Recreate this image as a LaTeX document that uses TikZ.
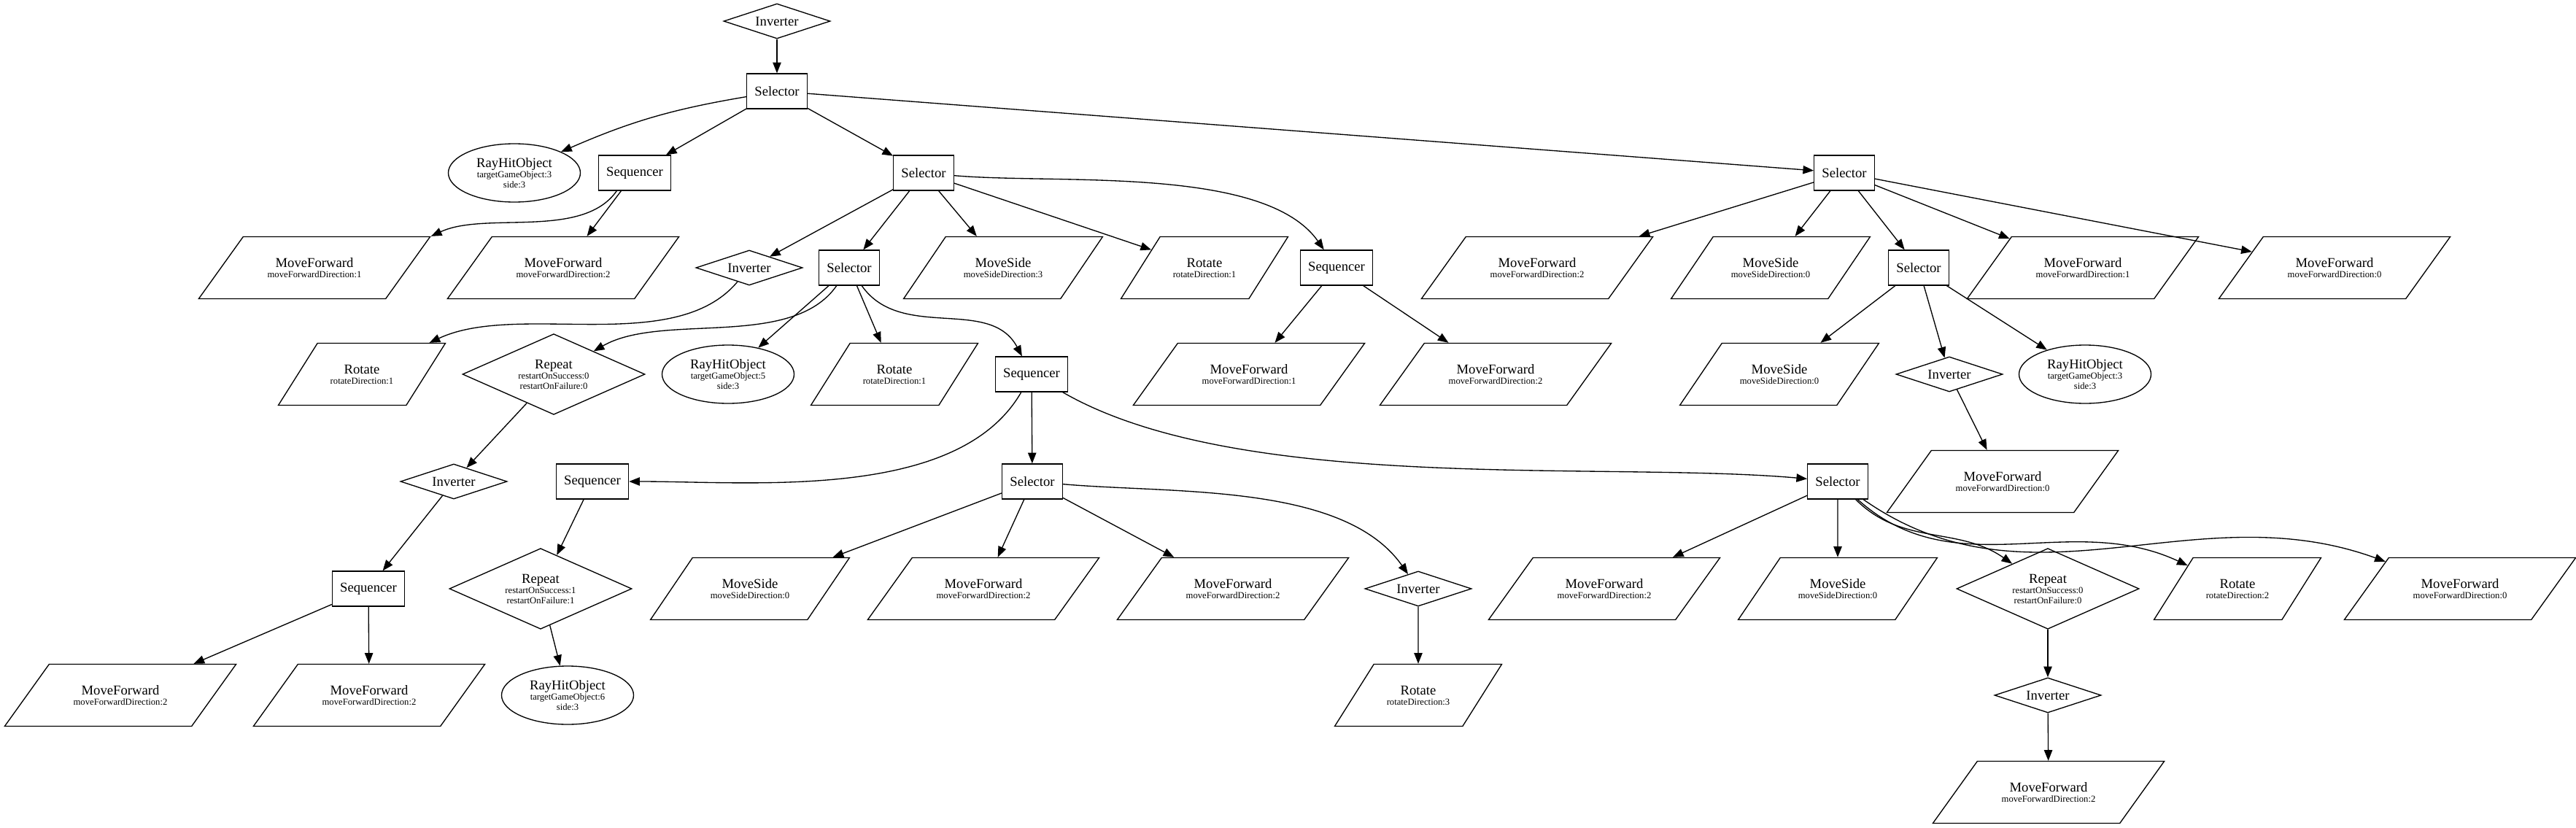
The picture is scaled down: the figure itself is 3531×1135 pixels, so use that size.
\documentclass[tikz,border=0pt]{standalone}
\usepackage{fontspec}
\setmainfont{Liberation Serif}
\usetikzlibrary{shapes.geometric,arrows.meta}

\newcommand{\lbl}[2]{{\fontsize{14}{14}\selectfont #1}\\#2}

\begin{document}
\begin{tikzpicture}[x=0.75pt,y=0.75pt,line width=1pt,>={Triangle[length=11pt,width=8.5pt]}]

        \tikzstyle{ctrl}=[draw,rectangle,minimum width=54pt,minimum height=36pt,inner xsep=8pt,font=\fontsize{14}{16}\selectfont]
        \tikzstyle{deco}=[draw,diamond,aspect=3,inner sep=0pt,minimum width=109.5pt,minimum height=36pt,font=\fontsize{14}{16}\selectfont]
        \tikzstyle{rep}=[draw,diamond,aspect=2.25,inner sep=0pt,minimum width=187.5pt,minimum height=83pt,align=center,font=\fontsize{9.5}{10.5}\selectfont]
        \tikzstyle{cond}=[draw,ellipse,inner sep=0pt,minimum width=135.75pt,minimum height=60pt,align=center,font=\fontsize{9.5}{10.5}\selectfont]
        \tikzstyle{act}=[draw,trapezium,trapezium left angle=40,trapezium right angle=140,trapezium stretches=true,minimum height=63.75pt,align=center,font=\fontsize{9.5}{10.5}\selectfont]
        \tikzstyle{mfwd}=[act,minimum width=238.5pt]
        \tikzstyle{mside}=[act,minimum width=204.75pt]
        \tikzstyle{mrot}=[act,minimum width=172pt]

        \useasboundingbox (0,0) rectangle (3531,-1135);

        % root
        \node[deco] (inv0) at (1065,-29) {Inverter};
        \node[ctrl] (sel1) at (1065,-125) {Selector};

        % level 2
        \node[cond] (ray2) at (705,-237) {\lbl{RayHitObject}{targetGameObject:3\\side:3}};
        \node[ctrl] (seq2) at (870,-237) {Sequencer};
        \node[ctrl] (sel2) at (1266,-237) {Selector};
        \node[ctrl] (sel2r) at (2528,-237) {Selector};

        % level 3
        \node[mfwd] (mf3a) at (431,-367) {\lbl{MoveForward}{moveForwardDirection:1}};
        \node[mfwd] (mf3b) at (772,-367) {\lbl{MoveForward}{moveForwardDirection:2}};
        \node[deco] (inv3) at (1027,-367) {Inverter};
        \node[ctrl] (sel3) at (1164,-367) {Selector};
        \node[mside] (ms3) at (1375,-367) {\lbl{MoveSide}{moveSideDirection:3}};
        \node[mrot] (rot3) at (1651,-367) {\lbl{Rotate}{rotateDirection:1}};
        \node[ctrl] (seq3) at (1832,-367) {Sequencer};
        \node[mfwd] (mf3c) at (2107,-367) {\lbl{MoveForward}{moveForwardDirection:2}};
        \node[mside] (ms3b) at (2427,-367) {\lbl{MoveSide}{moveSideDirection:0}};
        \node[ctrl] (sel3r) at (2630,-367) {Selector};
        \node[mfwd] (mf3d) at (2855,-367) {\lbl{MoveForward}{moveForwardDirection:1}};
        \node[mfwd] (mf3e) at (3200,-367) {\lbl{MoveForward}{moveForwardDirection:0}};

        % level 4
        \node[mrot] (rot4) at (496,-513) {\lbl{Rotate}{rotateDirection:1}};
        \node[rep] (rep4) at (759,-513) {\lbl{Repeat}{restartOnSuccess:0\\restartOnFailure:0}};
        \node[cond] (ray4) at (998,-513) {\lbl{RayHitObject}{targetGameObject:5\\side:3}};
        \node[mrot] (rot4b) at (1226,-513) {\lbl{Rotate}{rotateDirection:1}};
        \node[ctrl] (seq4) at (1414,-513) {Sequencer};
        \node[mfwd] (mf4a) at (1712,-513) {\lbl{MoveForward}{moveForwardDirection:1}};
        \node[mfwd] (mf4b) at (2050,-513) {\lbl{MoveForward}{moveForwardDirection:2}};
        \node[mside] (ms4) at (2439,-513) {\lbl{MoveSide}{moveSideDirection:0}};
        \node[deco] (inv4) at (2672,-513) {Inverter};
        \node[cond] (ray4b) at (2858,-513) {\lbl{RayHitObject}{targetGameObject:3\\side:3}};

        % level 5
        \node[deco] (inv5) at (622,-660) {Inverter};
        \node[ctrl] (seq5) at (812,-660) {Sequencer};
        \node[ctrl] (sel5) at (1415,-660) {Selector};
        \node[ctrl] (sel5r) at (2519,-660) {Selector};
        \node[mfwd] (mf5) at (2745,-660) {\lbl{MoveForward}{moveForwardDirection:0}};

        % level 6
        \node[ctrl] (seq6) at (505,-807) {Sequencer};
        \node[rep] (rep6) at (741,-807) {\lbl{Repeat}{restartOnSuccess:1\\restartOnFailure:1}};
        \node[mside] (ms6) at (1028,-807) {\lbl{MoveSide}{moveSideDirection:0}};
        \node[mfwd] (mf6a) at (1348,-807) {\lbl{MoveForward}{moveForwardDirection:2}};
        \node[mfwd] (mf6b) at (1690,-807) {\lbl{MoveForward}{moveForwardDirection:2}};
        \node[deco] (inv6) at (1944,-807) {Inverter};
        \node[mfwd] (mf6c) at (2199,-807) {\lbl{MoveForward}{moveForwardDirection:2}};
        \node[mside] (ms6b) at (2519,-807) {\lbl{MoveSide}{moveSideDirection:0}};
        \node[rep] (rep6r) at (2807,-807) {\lbl{Repeat}{restartOnSuccess:0\\restartOnFailure:0}};
        \node[mrot] (rot6) at (3067,-807) {\lbl{Rotate}{rotateDirection:2}};
        \node[mfwd] (mf6d) at (3372,-807) {\lbl{MoveForward}{moveForwardDirection:0}};

        % level 7
        \node[mfwd] (mf7a) at (165,-953) {\lbl{MoveForward}{moveForwardDirection:2}};
        \node[mfwd] (mf7b) at (506,-953) {\lbl{MoveForward}{moveForwardDirection:2}};
        \node[cond] (ray7) at (778,-953) {\lbl{RayHitObject}{targetGameObject:6\\side:3}};
        \node[mrot] (rot7) at (1944,-953) {\lbl{Rotate}{rotateDirection:3}};
        \node[deco] (inv7) at (2807,-953) {Inverter};

        % level 8
        \node[mfwd] (mf8) at (2808,-1086) {\lbl{MoveForward}{moveForwardDirection:2}};

        % straight edges
        \foreach \a / \b in {inv0/sel1,sel1/seq2,sel1/sel2,sel1/sel2r,seq2/mf3b,
            sel2/inv3,sel2/sel3,sel2/ms3,sel2/rot3,sel3/ray4,sel3/rot4b,
            seq3/mf4a,seq3/mf4b,sel2r/mf3c,sel2r/ms3b,sel2r/sel3r,sel2r/mf3d,sel2r/mf3e,
            sel3r/ms4,sel3r/inv4,sel3r/ray4b,inv4/mf5,rep4/inv5,inv5/seq6,
            seq6/mf7a,seq6/mf7b,seq5/rep6,rep6/ray7,seq4/sel5,sel5/ms6,sel5/mf6a,sel5/mf6b,
            inv6/rot7,sel5r/mf6c,sel5r/ms6b,rep6r/inv7,inv7/mf8} {
            \draw[->] (\a) -- (\b);
        }

        % curved edges
        \draw[->] (sel1) to[bend right=7] (ray2);
        \draw[->] (seq2.-135) to[out=-125,in=25,looseness=0.8] (mf3a.top right corner);
        \draw[->] (sel2) to[out=-5,in=125,looseness=0.7] (seq3);
        \draw[->] (inv3) to[out=-130,in=25,looseness=0.8] (rot4);
        \draw[->] (sel3) to[out=-125,in=30,looseness=0.8] (rep4);
        \draw[->] (sel3) to[out=-55,in=118] (seq4);
        \draw[->] (seq4) to[out=-120,in=0,looseness=0.8] (seq5);
        \draw[->] (seq4) to[out=-30,in=175,looseness=0.7] (sel5r);
        \draw[->] (sel5) to[out=-5,in=125,looseness=0.8] (inv6);
        \draw[->] (sel5r) to[out=-45,in=145] (rep6r);
        \draw[->] (sel5r) to[out=-42,in=155] (rot6);
        \draw[->] (sel5r) to[out=-35,in=160] (mf6d);

\end{tikzpicture}
\end{document}
